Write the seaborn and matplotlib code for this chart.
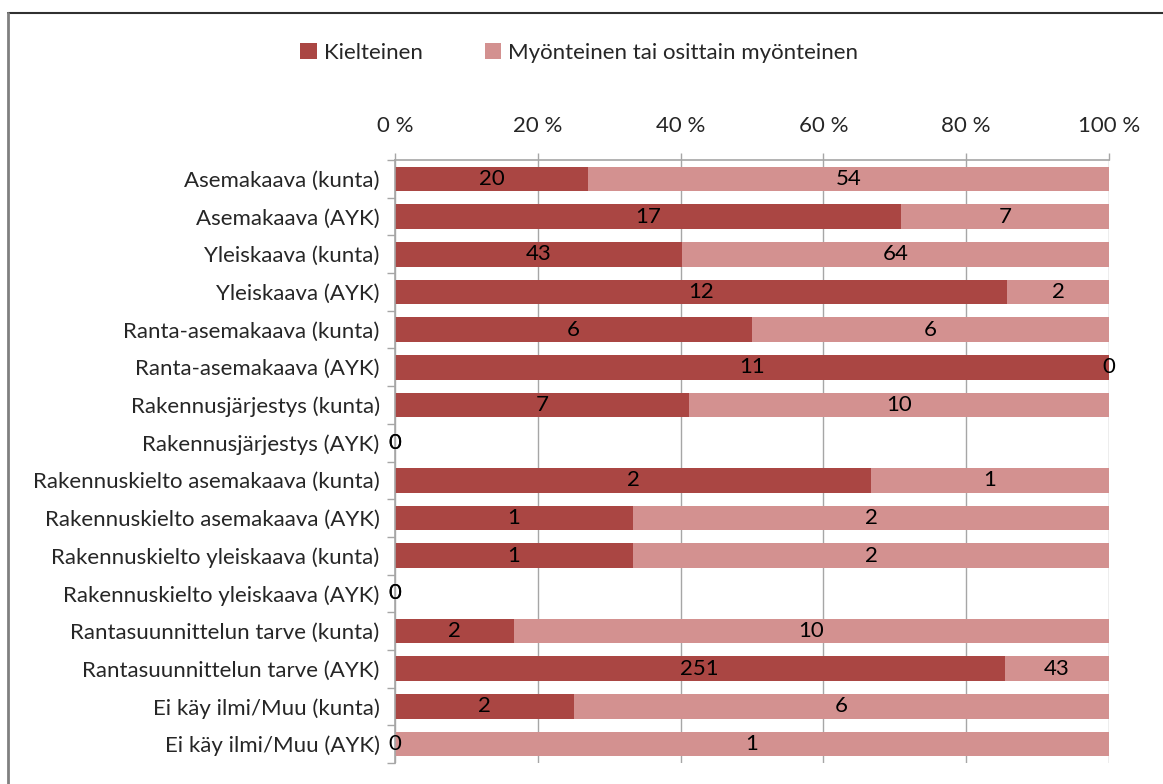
import matplotlib
matplotlib.use("Agg")
import matplotlib.pyplot as plt
import seaborn as sns
import pandas as pd
import numpy as np
from matplotlib.lines import Line2D
from matplotlib.patches import Patch

categories = [
    "Asemakaava (kunta)", "Asemakaava (AYK)", "Yleiskaava (kunta)", "Yleiskaava (AYK)",
    "Ranta-asemakaava (kunta)", "Ranta-asemakaava (AYK)", "Rakennusjärjestys (kunta)",
    "Rakennusjärjestys (AYK)", "Rakennuskielto asemakaava (kunta)", "Rakennuskielto asemakaava (AYK)",
    "Rakennuskielto yleiskaava (kunta)", "Rakennuskielto yleiskaava (AYK)",
    "Rantasuunnittelun tarve (kunta)", "Rantasuunnittelun tarve (AYK)",
    "Ei käy ilmi/Muu (kunta)", "Ei käy ilmi/Muu (AYK)",
]
kielteinen = [20, 17, 43, 12, 6, 11, 7, 0, 2, 1, 1, 0, 2, 251, 2, 0]
myonteinen = [54, 7, 64, 2, 6, 0, 10, 0, 1, 2, 2, 0, 10, 43, 6, 1]
series_names = ["Kielteinen", "Myönteinen tai osittain myönteinen"]
x_ticks = [0, 20, 40, 60, 80, 100]
x_ticklabels = ["0 %", "20 %", "40 %", "60 %", "80 %", "100 %"]

c_dark = "#AA4643"
c_light = "#D39190"

k = np.array(kielteinen, float)
m = np.array(myonteinen, float)
tot = k + m
safe = np.where(tot > 0, tot, 1)
pk = k / safe * 100
pt = np.where(tot > 0, 100.0, 0.0)

df = pd.DataFrame({"cat": categories, "pk": pk, "pt": pt})

sns.set_theme(style="white")
plt.rcParams["font.family"] = ["Lato", "DejaVu Sans"]

fig = plt.figure(figsize=(11.63, 7.84), dpi=100)
ax = fig.add_axes([395 / 1163, 1 - 763 / 784, (1109 - 395) / 1163, (763 - 160) / 784])

sns.barplot(data=df, y="cat", x="pt", color=c_light, orient="h", width=0.655,
            ax=ax, saturation=1, edgecolor="none", linewidth=0, errorbar=None)
sns.barplot(data=df, y="cat", x="pk", color=c_dark, orient="h", width=0.655,
            ax=ax, saturation=1, edgecolor="none", linewidth=0, errorbar=None)

fs = 16
for i in range(len(categories)):
    ax.text(pk[i] / 2, i, f"{int(k[i])}", ha="center", va="center", fontsize=fs, color="black")
    ax.text(pk[i] + (pt[i] - pk[i]) / 2 if tot[i] > 0 else 0, i, f"{int(m[i])}",
            ha="center", va="center", fontsize=fs, color="black")

ax.set_xlim(0, 100)
ax.set_ylim(len(categories) - 0.5, -0.5)
ax.set_xticks(x_ticks)
ax.set_xticklabels(x_ticklabels, fontsize=fs)
ax.xaxis.tick_top()
ax.xaxis.set_label_position("top")
ax.set_xlabel("")
ax.set_ylabel("")
ax.tick_params(axis="x", which="major", direction="out", length=5, width=1, color="#A6A6A6", pad=12.5,
               top=True, bottom=False)
ax.set_yticks(range(len(categories)))
ax.set_yticklabels(categories, fontsize=fs)
ax.set_yticks(np.arange(-0.5, len(categories) + 0.5, 1), minor=True)
ax.tick_params(axis="y", which="major", length=0, pad=11, left=True)
ax.tick_params(axis="y", which="minor", direction="out", length=5.5, width=1, color="#A6A6A6", left=True)
ax.grid(axis="x", color="#A6A6A6", linewidth=1)
ax.set_axisbelow(True)
for s in ["bottom", "right"]:
    ax.spines[s].set_visible(False)
for s in ["top", "left"]:
    ax.spines[s].set_color("#A6A6A6")
    ax.spines[s].set_linewidth(1.2)

handles = [Patch(facecolor=c_dark, edgecolor="none"), Patch(facecolor=c_light, edgecolor="none")]
fig.legend(handles, series_names, loc="center", bbox_to_anchor=(0.498, 0.933), ncol=2,
           frameon=False, fontsize=fs, handlelength=0.75, handleheight=0.75, handletextpad=0.3,
           columnspacing=2.8)

fig.add_artist(Line2D([8 / 1163, 1.0], [1 - 13 / 784, 1 - 13 / 784], transform=fig.transFigure,
                      color="#303030", linewidth=1.5))
fig.add_artist(Line2D([8 / 1163, 8 / 1163], [0, 1 - 13 / 784], transform=fig.transFigure,
                      color="#808080", linewidth=2))

fig.savefig("out.png", dpi=100)
